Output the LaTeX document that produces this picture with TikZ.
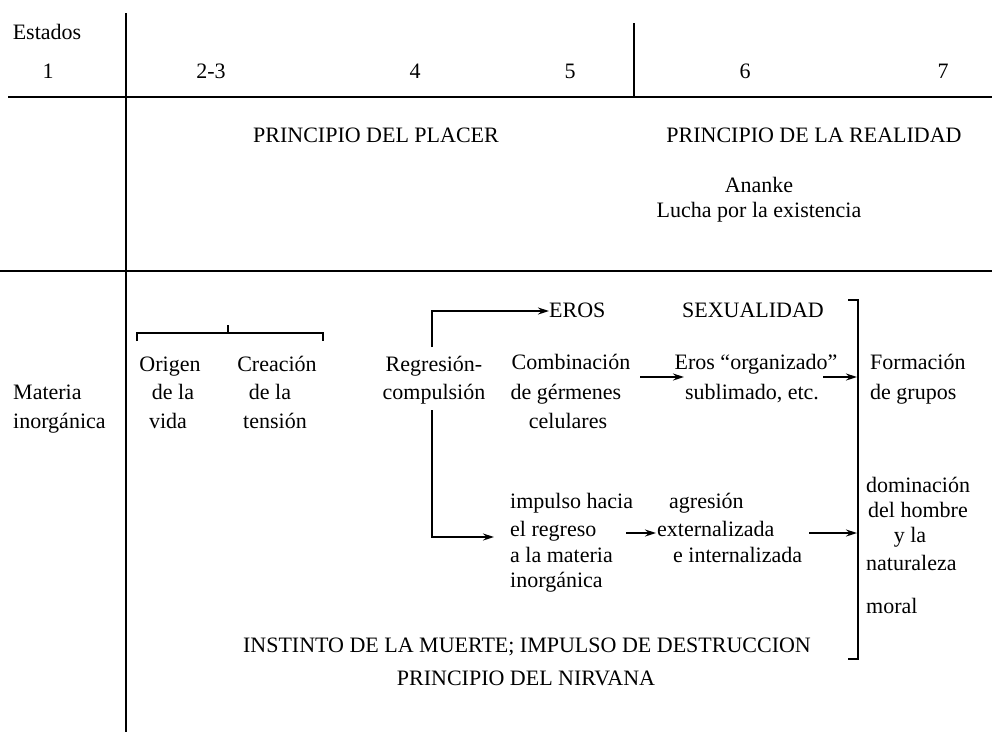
\documentclass[tikz,border=0pt]{standalone}
\usepackage{fontspec}
\setmainfont{Liberation Serif}
\usetikzlibrary{arrows.meta}
\begin{document}
\begin{tikzpicture}[x=1pt,y=-1pt,
  txt/.style={inner sep=0pt,text height=16pt,text depth=4pt,font=\fontsize{22}{26}\selectfont},
  lt/.style={txt,anchor=west},
  rulebold/.style={line width=2.6pt},
  conn/.style={line width=1.6pt},
  arr/.style={conn,-{Stealth[length=11pt,width=7pt]}}]
\useasboundingbox (0,0) rectangle (992,732);
% header
\node[txt] (estados) at (47,33) {Estados};
\node[txt] (n1) at (48,72) {1};
\node[txt] (n23) at (211,72) {2-3};
\node[txt] (n4) at (415,72) {4};
\node[txt] (n5) at (570,72) {5};
\node[txt] (n6) at (745,72) {6};
\node[txt] (n7) at (943,72) {7};
\draw[rulebold] (8,97) -- (992,97);
\draw[rulebold] (0,271) -- (992,271);
\draw[rulebold] (126,13) -- (126,732);
\draw[rulebold] (634,23) -- (634,97);
% principles
\node[txt] (placer) at (376,136) {PRINCIPIO DEL PLACER};
\node[txt] (realidad) at (814,136) {PRINCIPIO DE LA REALIDAD};
\node[txt] (ananke) at (759,186) {Ananke};
\node[txt] (lucha) at (759,211) {Lucha por la existencia};
% left column
\node[lt] (materia) at (13,393) {Materia};
\node[lt] (inorg1) at (13,422) {inorgánica};
% origen / creacion
\node[txt] (origen) at (170,365) {Origen};
\node[txt] (dela1) at (173,393) {de la};
\node[txt] (vida) at (168,422) {vida};
\node[txt] (creacion) at (277,365) {Creación};
\node[txt] (dela2) at (270,393) {de la};
\node[txt] (tension) at (275,422) {tensión};
\draw[conn] (137,341) -- (137,333) -- (323,333) -- (323,341);
\draw[conn] (228,333) -- (228,325);
% regresion
\node[txt] (regresion) at (434,365) {Regresión-};
\node[txt] (compulsion) at (434,393) {compulsión};
\node[lt] (eros) at (549,311) {EROS};
\node[txt] (sexualidad) at (753,311) {SEXUALIDAD};
\coordinate (rtop) at (432,347);
\coordinate (rbot) at (432,410);
\draw[arr] (rtop) |- (eros.west);
\coordinate (impend) at (494,537);
\draw[arr] (rbot) |- (impend);
% combinacion row
\node[txt] (comb) at (571,363) {Combinación};
\node[txt] (germ) at (566,393) {de gérmenes};
\node[txt] (celul) at (568,422) {celulares};
\node[txt] (erosorg) at (756,363) {Eros “organizado”};
\node[txt] (subl) at (752,393) {sublimado, etc.};
\node[lt] (formacion) at (870,363) {Formación};
\node[lt] (grupos) at (870,393) {de grupos};
\coordinate (a1s) at (640,377);
\coordinate (a1e) at (684,377);
\draw[arr] (a1s) -- (a1e);
\coordinate (a2s) at (823,377);
\coordinate (a2e) at (857,377);
\draw[arr] (a2s) -- (a2e);
% right bracket
\draw[conn] (848,300) -- (858,300) -- (858,659) -- (848,659);
% lower rows
\node[lt] (impulso) at (510,502) {impulso hacia};
\node[lt] (regreso) at (510,530) {el regreso};
\node[lt] (materia2) at (510,556) {a la materia};
\node[lt] (inorg2) at (510,581) {inorgánica};
\node[lt] (agresion) at (669,502) {agresión};
\node[lt] (extern) at (657,530) {externalizada};
\node[lt] (intern) at (673,556) {e internalizada};
\coordinate (a3s) at (626,533);
\coordinate (a3e) at (656,533);
\draw[arr] (a3s) -- (a3e);
\coordinate (a4s) at (809,533);
\coordinate (a4e) at (857,533);
\draw[arr] (a4s) -- (a4e);
\node[lt] (domin) at (866,486) {dominación};
\node[lt] (hombre) at (868,511) {del hombre};
\node[txt] (yla) at (910,536) {y la};
\node[lt] (natur) at (866,564) {naturaleza};
\node[lt] (moral) at (866,607) {moral};
% bottom
\node[txt] (instinto) at (527,646) {INSTINTO DE LA MUERTE; IMPULSO DE DESTRUCCION};
\node[txt] (nirvana) at (526,679) {PRINCIPIO DEL NIRVANA};
\end{tikzpicture}
\end{document}
